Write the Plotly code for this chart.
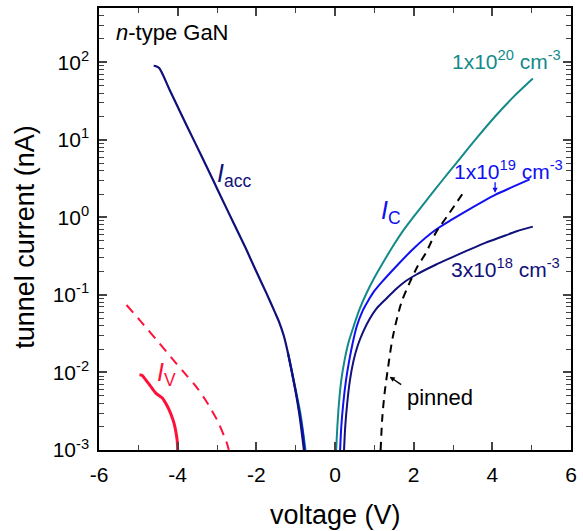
import plotly.graph_objects as go

# ---- data (voltage in V, current in nA) ----
acc_V = [-4.61, -4.55, -4.47, -4.2, -3.9, -3.55, -3.25, -2.96, -2.6, -2.29, -2.0, -1.75,
         -1.54, -1.42, -1.3, -1.2, -1.1, -1.0, -0.9, -0.79]
acc_I = [90.2, 89.0, 84.1, 43.7, 20.9, 9.0, 4.37, 2.14, 0.891, 0.420, 0.200, 0.107,
         0.0617, 0.0447, 0.0295, 0.0182, 0.0105, 0.00562, 0.00275, 0.00100]

teal_acc_V = [-1.2, -1.06, -0.96, -0.87, -0.81, -0.75]
teal_acc_I = [0.0182, 0.0085, 0.0048, 0.0028, 0.0017, 0.0010]

blue_acc_V = [-1.2, -1.07, -0.97, -0.89, -0.82, -0.77]
blue_acc_I = [0.0182, 0.0085, 0.0048, 0.0028, 0.0017, 0.0010]

c20_V = [0.03, 0.06, 0.10, 0.16, 0.24, 0.34, 0.47, 0.62, 0.80, 1.0, 1.26, 1.5, 1.72, 2.0,
         2.31, 2.7, 3.1, 3.6, 4.07, 4.55, 5.03]
c20_I = [0.001, 0.00200, 0.00398, 0.00794, 0.0141, 0.0240, 0.0389, 0.0646, 0.105, 0.166,
         0.282, 0.447, 0.661, 1.02, 1.62, 2.88, 5.13, 10.5, 20.0, 36.3, 61.7]

c19_V = [0.13, 0.16, 0.21, 0.28, 0.36, 0.45, 0.55, 0.7, 0.85, 0.97, 1.2, 1.56, 2.0, 2.56,
         3.0, 3.4, 4.07, 4.5, 4.95]
c19_I = [0.001, 0.00200, 0.00398, 0.00794, 0.0141, 0.0240, 0.0389, 0.0617, 0.0851, 0.107,
         0.148, 0.234, 0.398, 0.692, 0.955, 1.26, 1.95, 2.45, 3.09]

c18_V = [0.23, 0.26, 0.31, 0.38, 0.47, 0.58, 0.72, 0.88, 1.05, 1.3, 1.56, 1.8, 2.06, 2.56,
         3.0, 3.4, 3.82, 4.24, 4.62, 5.03]
c18_I = [0.001, 0.00200, 0.00398, 0.00794, 0.0141, 0.0224, 0.0339, 0.0490, 0.0661, 0.0891,
         0.120, 0.151, 0.182, 0.245, 0.309, 0.380, 0.468, 0.562, 0.661, 0.759]

pinned_V = [1.16, 1.2, 1.26, 1.35, 1.47, 1.68, 1.89, 2.1, 2.31, 2.56, 2.9, 3.25]
pinned_I = [0.001, 0.00251, 0.00537, 0.0117, 0.0288, 0.0776, 0.141, 0.234, 0.347, 0.631,
            1.12, 2.04]

iv_V = [-4.97, -4.9, -4.85, -4.7, -4.55, -4.39, -4.3, -4.22, -4.14, -4.09, -4.04, -4.01, -4.0]
iv_I = [0.00933, 0.00912, 0.00851, 0.00676, 0.00537, 0.00468, 0.00398, 0.00331, 0.00263,
        0.00219, 0.00166, 0.00129, 0.001]

ivd_V = [-5.3, -4.89, -4.47, -4.14, -3.84, -3.55, -3.3, -3.0, -2.75, -2.70]
ivd_I = [0.0741, 0.0427, 0.0240, 0.0151, 0.0100, 0.00676, 0.00447, 0.00245, 0.00123, 0.001]

x_ticks = [-6, -4, -2, 0, 2, 4, 6]
y_exps = [-3, -2, -1, 0, 1, 2]

TEAL = "#138a8a"
BLUE = "#1010f0"
NAVY = "#10107a"
RED = "#ff1038"
FONT = "Liberation Sans, Arial, sans-serif"

fig = go.Figure()

def line(x, y, color, width=2.0, dash=None):
    fig.add_trace(go.Scatter(x=x, y=y, mode="lines", showlegend=False, hoverinfo="skip",
                             line=dict(color=color, width=width, dash=dash, shape="spline",
                                       smoothing=0.8)))

line(teal_acc_V, teal_acc_I, TEAL)
line(blue_acc_V, blue_acc_I, BLUE)
line(acc_V, acc_I, NAVY, 2.2)
line(c20_V, c20_I, TEAL)
line(c19_V, c19_I, BLUE)
line(c18_V, c18_I, NAVY)
line(pinned_V, pinned_I, "black", 2.0, "8px,6px")
line(iv_V, iv_I, RED, 3.0)
line(ivd_V, ivd_I, RED, 2.0, "10px,7px")

minor_y = [m * 10 ** e for e in range(-3, 3) for m in range(2, 10)]

fig.update_xaxes(range=[-6, 6], tickvals=x_ticks, ticktext=[str(v) for v in x_ticks],
                 ticks="inside", ticklen=8, tickwidth=1.5, mirror="ticks",
                 showline=True, linecolor="black", linewidth=1.5, showgrid=False, zeroline=False,
                 minor=dict(ticks="inside", ticklen=5, tickwidth=1.2, dtick=1, showgrid=False),
                 tickfont=dict(family=FONT, size=21, color="black"), ticklabelstandoff=5,
                 ticklabeloverflow="allow")
fig.update_yaxes(type="log", range=[-3, 2.7], tickvals=[10 ** e for e in y_exps],
                 ticktext=["10<sup>%d</sup>" % e for e in y_exps],
                 ticks="inside", ticklen=8, tickwidth=1.5, mirror="ticks",
                 showline=True, linecolor="black", linewidth=1.5, showgrid=False, zeroline=False,
                 minor=dict(ticks="inside", ticklen=5, tickwidth=1.2, tickmode="array",
                            tickvals=minor_y, showgrid=False),
                 tickfont=dict(family=FONT, size=21, color="black"), ticklabelstandoff=4)

# axis titles
fig.add_annotation(xref="paper", yref="paper", x=0.5, y=-0.147, xanchor="center",
                   yanchor="middle", text="voltage (V)", showarrow=False,
                   font=dict(family=FONT, size=27, color="black"))
fig.add_annotation(xref="paper", yref="paper", x=-0.157, y=0.482, xanchor="center",
                   yanchor="middle", text="tunnel current (nA)", textangle=-90,
                   showarrow=False, font=dict(family=FONT, size=27, color="black"))

def note(x, y, text, color, size=22):
    fig.add_annotation(x=x, y=y, text=text, showarrow=False, xanchor="center",
                       yanchor="middle", font=dict(family=FONT, size=size, color=color))

note(-4.14, 2.38, "<i>n</i>-type GaN", "black", 22)
note(-2.56, 0.55, "<i>I</i><sub>acc</sub>", NAVY, 25)
note(1.43, 0.07, "<i>I</i><sub>C</sub>", BLUE, 25)
note(4.37, 2.03, "1x10<sup>20</sup> cm<sup>-3</sup>", TEAL, 21)
note(4.42, 0.61, "1x10<sup>19</sup> cm<sup>-3</sup>", BLUE, 21)
note(4.34, -0.65, "3x10<sup>18</sup> cm<sup>-3</sup>", NAVY, 21)
note(2.66, -2.32, "pinned", "black", 22)
note(-4.29, -2.02, "<i>I</i><sub>V</sub>", RED, 25)

fig.add_annotation(x=4.07, y=0.316, text="", showarrow=True, ax=0, ay=-12,
                   arrowhead=2, arrowsize=0.8, arrowwidth=1.3, arrowcolor=BLUE)
fig.add_annotation(x=1.39, y=-2.054, text="", showarrow=True, ax=13, ay=9,
                   arrowhead=2, arrowsize=0.8, arrowwidth=1.3, arrowcolor="black")

fig.update_layout(width=583, height=531, margin=dict(l=99, r=6, t=8, b=81),
                  paper_bgcolor="white", plot_bgcolor="white",
                  font=dict(family=FONT, color="black"))

fig.write_html("out.html", config={"displayModeBar": False},
               post_script="document.body.style.margin='0';document.body.style.overflow='hidden';")
